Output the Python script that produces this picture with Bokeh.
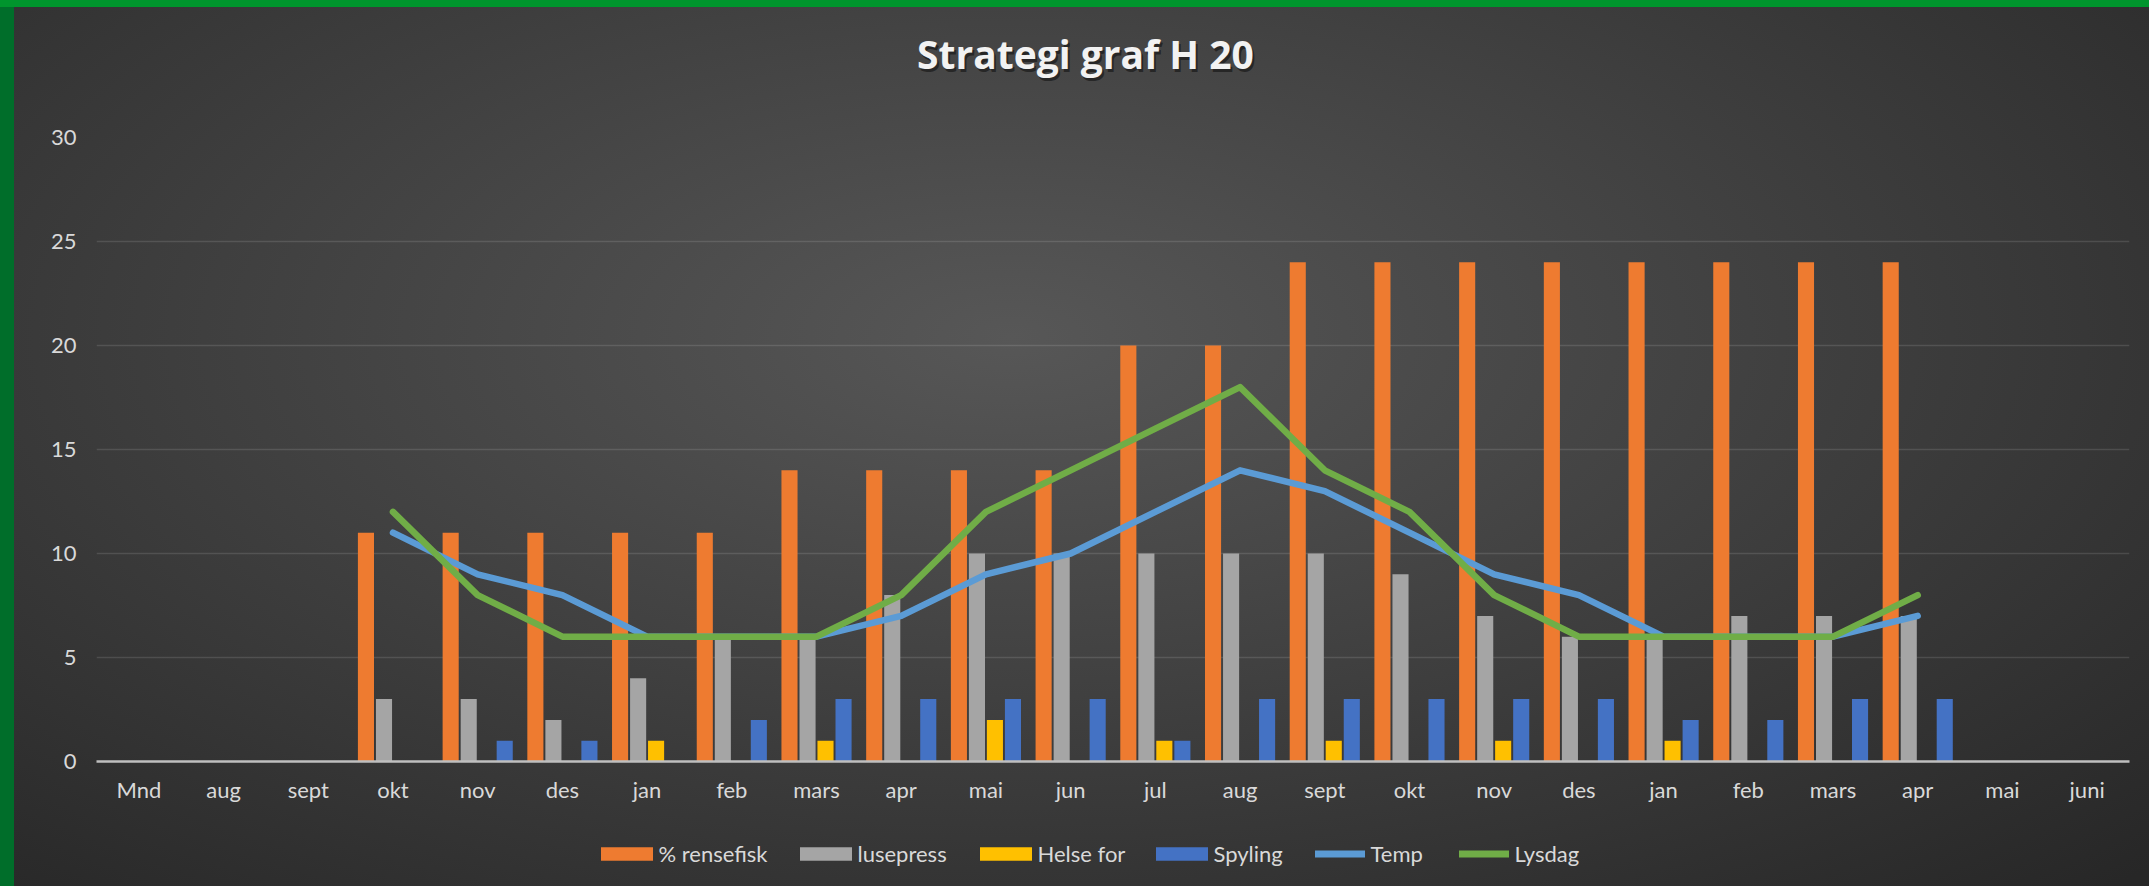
import math
from bokeh.plotting import figure
from bokeh.layouts import column
from bokeh.models import Range1d, FixedTicker, Legend, LegendItem, ColumnDataSource, Label
from bokeh.transform import dodge
from bokeh.embed import file_html
from bokeh.resources import INLINE

nan = math.nan

# ---- data ----
months = ["Mnd", "aug", "sept", "okt", "nov", "des", "jan", "feb", "mars", "apr", "mai", "jun",
          "jul", "aug", "sept", "okt", "nov", "des", "jan", "feb", "mars", "apr", "mai", "juni"]
rensefisk = [0, 0, 0, 11, 11, 11, 11, 11, 14, 14, 14, 14, 20, 20, 24, 24, 24, 24, 24, 24, 24, 24, 0, 0]
lusepress = [0, 0, 0, 3, 3, 2, 4, 6, 6, 8, 10, 10, 10, 10, 10, 9, 7, 6, 6, 7, 7, 7, 0, 0]
helse_for = [0, 0, 0, 0, 0, 0, 1, 0, 1, 0, 2, 0, 1, 0, 1, 0, 1, 0, 1, 0, 0, 0, 0, 0]
spyling = [0, 0, 0, 0, 1, 1, 0, 2, 3, 3, 3, 3, 1, 3, 3, 3, 3, 3, 2, 2, 3, 3, 0, 0]
temp = [nan, nan, nan, 11, 9, 8, 6, 6, 6, 7, 9, 10, 12, 14, 13, 11, 9, 8, 6, 6, 6, 7, nan, nan]
lysdag = [nan, nan, nan, 12, 8, 6, 6, 6, 6, 8, 12, 14, 16, 18, 14, 12, 8, 6, 6, 6, 6, 8, nan, nan]
y_ticks = [0, 5, 10, 15, 20, 25, 30]
series_names = ["% rensefisk", "lusepress", "Helse for", "Spyling", "Temp", "Lysdag"]
title_text = "Strategi graf H 20"

FONT = "Lato"
TXT = "#d9d9d9"
BAR_COLORS = ["#EE7B30", "#A5A5A5", "#FFC000", "#4472C4"]
LINE_COLORS = ["#5B9BD5", "#70AD47"]
bar_cols = ["rensefisk", "lusepress", "helse_for", "spyling"]
line_cols = ["temp", "lysdag"]

xs = [i + 0.5 for i in range(len(months))]
src = ColumnDataSource(dict(x=xs, rensefisk=rensefisk, lusepress=lusepress,
                            helse_for=helse_for, spyling=spyling, temp=temp, lysdag=lysdag))

W = 2149
TITLE_H, MAIN_H, LEG_H = 100, 720, 66
LEFT, RIGHT = 96, 20          # frame edges (all strips share them in the column)


def strip(height):
    f = figure(width=W, height=height, x_range=Range1d(LEFT, W - RIGHT), y_range=Range1d(0, height),
               output_backend="svg", toolbar_location=None,
               x_axis_location=None, y_axis_location=None,
               min_border_left=LEFT, min_border_right=RIGHT, min_border_top=0, min_border_bottom=0)
    f.grid.visible = False
    f.background_fill_color = None
    f.border_fill_color = None
    f.outline_line_color = None
    return f


# ---- title strip ----
pt = strip(TITLE_H)
for dx, dy, col, alpha in [(2, -3, "#000000", 0.45), (0, 0, "#f2f2f2", 1.0)]:
    pt.add_layout(Label(x=1085, y=47.5, text=title_text, text_align="center",
                        text_baseline="middle", text_font="Open Sans", text_font_size="39px",
                        text_font_style="bold", text_color=col, text_alpha=alpha,
                        x_offset=dx, y_offset=dy))

# ---- main plot ----
p = figure(width=W, height=MAIN_H, x_range=Range1d(0, len(months)), y_range=Range1d(0, 30),
           output_backend="svg", toolbar_location=None,
           min_border_left=LEFT, min_border_right=RIGHT, min_border_top=37, min_border_bottom=59)
p.background_fill_color = None
p.border_fill_color = None
p.outline_line_color = None

p.xgrid.grid_line_color = None
p.ygrid.grid_line_color = "#ffffff"
p.ygrid.grid_line_alpha = 0.12
p.ygrid.grid_line_width = 1.5

p.yaxis.ticker = FixedTicker(ticks=y_ticks)
p.yaxis.axis_line_color = None
p.yaxis.major_tick_line_color = None
p.yaxis.minor_tick_line_color = None
p.yaxis.major_label_standoff = 14
p.yaxis.major_label_text_font = FONT
p.yaxis.major_label_text_font_size = "22px"
p.yaxis.major_label_text_color = TXT

p.xaxis.ticker = FixedTicker(ticks=xs)
p.xaxis.major_label_overrides = {x: m for x, m in zip(xs, months)}
p.xaxis.axis_line_color = "#bfbfbf"
p.xaxis.axis_line_width = 2.5
p.xaxis.major_tick_line_color = None
p.xaxis.minor_tick_line_color = None
p.xaxis.major_label_standoff = 8
p.xaxis.major_label_text_font = FONT
p.xaxis.major_label_text_font_size = "22px"
p.xaxis.major_label_text_color = TXT

bw = 0.19
offsets = [-0.319, -0.106, 0.106, 0.319]
for col, off, c in zip(bar_cols, offsets, BAR_COLORS):
    p.vbar(x=dodge("x", off), top=col, width=bw, source=src, fill_color=c, line_color=None)
for col, c in zip(line_cols, LINE_COLORS):
    p.line(x="x", y=col, source=src, line_width=6.5, line_color=c,
           line_join="round", line_cap="round")

# ---- legend strip (same series, drawn far outside its visible ranges; only the legends show) ----
pl = strip(LEG_H)
pl.x_range = Range1d(-48, -24)
pl.y_range = Range1d(200, 266)
renderers = []
for col, c in zip(bar_cols, BAR_COLORS):
    renderers.append(pl.vbar(x="x", top=col, width=bw, source=src, fill_color=c, line_color=None))
for col, c in zip(line_cols, LINE_COLORS):
    renderers.append(pl.line(x="x", y=col, source=src, line_width=7, line_color=c, line_cap="round"))

legend_x = [600, 799, 979, 1155, 1311, 1455]   # left edge of each legend swatch (page px)
for i, (name, r, lx) in enumerate(zip(series_names, renderers, legend_x)):
    is_bar = i < 4
    gw = 65 if is_bar else 50
    lg = Legend(items=[LegendItem(label=name, renderers=[r])], orientation="horizontal",
                location=(lx - LEFT - (6.5 if is_bar else -3.5), 19))
    lg.background_fill_alpha = 0
    lg.border_line_color = None
    lg.padding = 0
    lg.margin = 0
    lg.label_standoff = 0 if is_bar else 6
    lg.glyph_width = gw
    lg.glyph_height = 17
    lg.label_text_font = FONT
    lg.label_text_font_size = "22px"
    lg.label_text_color = TXT
    pl.add_layout(lg)

layout = column(pt, p, pl, spacing=0)
layout.styles = {
    "background": "radial-gradient(ellipse 75% 85% at 47% 38%, #575757 0%, #3f3f3f 50%, #272727 100%)",
    "box-shadow": "inset 0 7px 0 0 #00952d, inset 14px 0 0 0 #006e2a",
}

open("out.html", "w").write(file_html(layout, INLINE))
